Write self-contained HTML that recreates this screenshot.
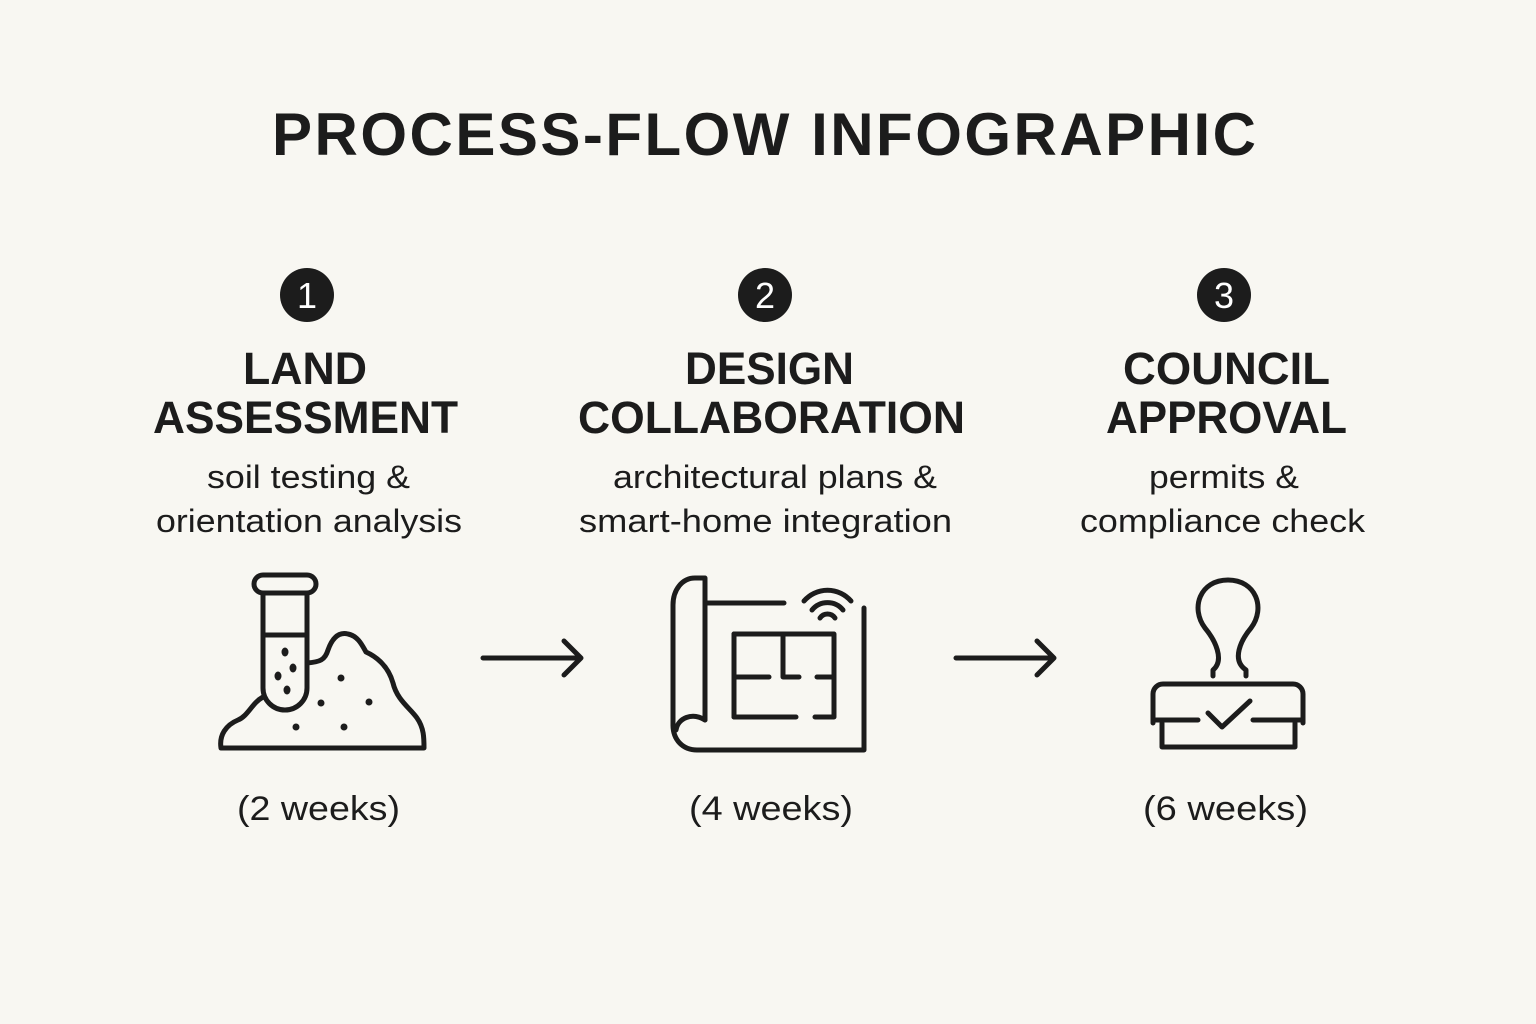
<!DOCTYPE html>
<html><head><meta charset="utf-8"><style>
html,body{margin:0;padding:0;background:#f8f7f2;}
svg{display:block}
text{font-family:"Liberation Sans",sans-serif;fill:#1c1c1c}
.h{font-weight:bold;font-size:45px}
.s{font-size:32px}
.w{font-size:34px}
.ic{fill:none;stroke:#1c1c1c;stroke-width:5;stroke-linecap:round;stroke-linejoin:round}
</style></head><body>
<svg width="1536" height="1024" viewBox="0 0 1536 1024">
<rect width="1536" height="1024" fill="#f8f7f2"/>
<text x="272" y="155" font-size="60" font-weight="bold" textLength="984" lengthAdjust="spacing">PROCESS-FLOW INFOGRAPHIC</text>

<circle cx="307" cy="295" r="27" fill="#1c1c1c"/>
<circle cx="765" cy="295" r="27" fill="#1c1c1c"/>
<circle cx="1224" cy="295" r="27" fill="#1c1c1c"/>
<text x="307" y="308" font-size="36" text-anchor="middle" style="fill:#fff">1</text>
<text x="765" y="308" font-size="36" text-anchor="middle" style="fill:#fff">2</text>
<text x="1224" y="308" font-size="36" text-anchor="middle" style="fill:#fff">3</text>

<text class="h" x="243" y="384" textLength="124" lengthAdjust="spacingAndGlyphs">LAND</text>
<text class="h" x="153" y="433" textLength="305" lengthAdjust="spacingAndGlyphs">ASSESSMENT</text>
<text class="h" x="685" y="384" textLength="169" lengthAdjust="spacingAndGlyphs">DESIGN</text>
<text class="h" x="578" y="433" textLength="387" lengthAdjust="spacingAndGlyphs">COLLABORATION</text>
<text class="h" x="1123" y="384" textLength="207" lengthAdjust="spacingAndGlyphs">COUNCIL</text>
<text class="h" x="1106" y="433" textLength="241" lengthAdjust="spacingAndGlyphs">APPROVAL</text>

<text class="s" x="207" y="488" textLength="203" lengthAdjust="spacingAndGlyphs">soil testing &amp;</text>
<text class="s" x="156" y="532" textLength="306" lengthAdjust="spacingAndGlyphs">orientation analysis</text>
<text class="s" x="613" y="488" textLength="324" lengthAdjust="spacingAndGlyphs">architectural plans &amp;</text>
<text class="s" x="579" y="532" textLength="373" lengthAdjust="spacingAndGlyphs">smart-home integration</text>
<text class="s" x="1149" y="488" textLength="150" lengthAdjust="spacingAndGlyphs">permits &amp;</text>
<text class="s" x="1080" y="532" textLength="285" lengthAdjust="spacingAndGlyphs">compliance check</text>

<text class="w" x="237" y="820" textLength="163" lengthAdjust="spacingAndGlyphs">(2 weeks)</text>
<text class="w" x="689" y="820" textLength="164" lengthAdjust="spacingAndGlyphs">(4 weeks)</text>
<text class="w" x="1143" y="820" textLength="165" lengthAdjust="spacingAndGlyphs">(6 weeks)</text>

<g class="ic">
<path d="M483 658 H580 M564 641 L581 658 L564 675"/>
<path d="M956 658 H1053 M1037 641 L1054 658 L1037 675"/>
</g>

<g class="ic">
<rect x="254" y="575" width="62" height="18" rx="9"/>
<path d="M263 593 V688 a22 22 0 0 0 44 0 V593"/>
<path d="M263 635 H307"/>
<path d="M307 663 C320 662 325 660 328 650 C333 636 340 632 348 634 C358 636 362 645 366 652 C375 656 388 665 393 683 C397 700 410 708 417 718 C424 728 424 738 424 748 H221 C219 735 226 725 238 720 C248 716 252 703 263 697"/>
</g>
<g fill="#1c1c1c">
<ellipse cx="285" cy="652" rx="3.5" ry="4.5"/><ellipse cx="293" cy="668" rx="3.5" ry="4.5"/>
<ellipse cx="278" cy="676" rx="3.5" ry="4.5"/><ellipse cx="287" cy="690" rx="3.5" ry="4.5"/>
<circle cx="341" cy="678" r="3.5"/><circle cx="321" cy="703" r="3.5"/><circle cx="369" cy="702" r="3.5"/>
<circle cx="296" cy="727" r="3.5"/><circle cx="344" cy="727" r="3.5"/>
</g>

<g class="ic">
<path d="M705 720 V578 H695 C682 578 673 590 673 605 V725"/>
<path d="M673 725 C673 740 683 750 697 750 H864 V608"/>
<path d="M705 720 C692 712 678 718 676 730"/>
<path d="M705 603 H784"/>
<path d="M734 634 H834 V717 H815 M796 717 H734 Z"/>
<path d="M734 634 V717 M783 634 V677 M734 677 H769 M783 677 H799 M817 677 H834"/>
<path d="M812 610 a20 20 0 0 1 31 0 M804 601 a31 31 0 0 1 47 0 M820 618 a9 9 0 0 1 15 0"/>
</g>

<g class="ic">
<path d="M1213 676 V670 C1225 660 1215 640 1205 628 C1190 608 1200 580 1228 580 C1256 580 1266 608 1251 628 C1241 640 1231 660 1246 670 V676"/>
<path d="M1153 723 V694 a10 10 0 0 1 10 -10 H1293 a10 10 0 0 1 10 10 V723"/>
<path d="M1153 720 H1198 M1253 720 H1303"/>
<path d="M1162 723 V747 H1295 V723"/>
<path d="M1208 713 L1222 727 L1250 701"/>
</g>
</svg>
</body></html>
